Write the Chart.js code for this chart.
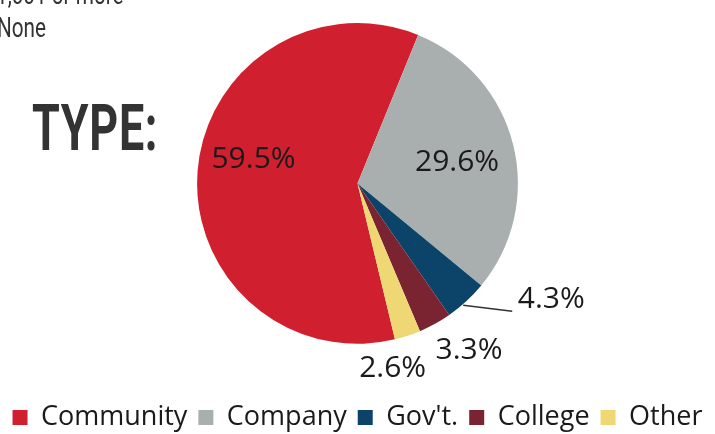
<!DOCTYPE html>
<html>
<head>
<meta charset="utf-8">
<script src="https://cdn.jsdelivr.net/npm/chart.js@4.4.0/dist/chart.umd.min.js"></script>
<style>
    body { margin: 0; background: #fff; }
    #wrap { position: relative; width: 715px; height: 434px; overflow: hidden; }
    .nota { position: absolute; font-family: Roboto, sans-serif; color: #333; transform-origin: left top; white-space: nowrap; }
    #titulo { position: absolute; left: 32px; top: 90px; font-family: Roboto, sans-serif; font-weight: 700;
        font-size: 65px; color: #333; transform: scaleX(0.69); transform-origin: left top; letter-spacing: 1px; }
</style>
</head>
<body>
<div id="wrap">
    <div class="nota" style="left:-4px; top:-22px; font-size:28px; transform:scaleX(0.74);">1,001 or more</div>
    <div class="nota" style="left:-3px; top:11px; font-size:28px; transform:scaleX(0.74);">None</div>
    <div id="titulo">TYPE:</div>
    <canvas id="id_grafica_tipo"></canvas>
</div>
<script>
//------------------------DATOS---------------------------
const categorias = ['Community', 'Company', "Gov't.", 'College', 'Other'];
const porcentajes = [59.5, 29.6, 4.3, 3.3, 2.6];
const etiquetas = ['59.5%', '29.6%', '4.3%', '3.3%', '2.6%'];
const mis_colores = ['#d0202f', '#a9afae', '#0b4468', '#7a2432', '#efd873'];

// donde va cada etiqueta: dentro (f = fraccion del radio) o fuera (desplazamiento desde el borde)
const estiloEtiquetas = [
    { dentro: true, f: 0.65, dy: -16 },
    { dentro: true, f: 0.64, dy: 4 },
    { dentro: false, dx: 85, dy: -2, linea: [46, 10] },
    { dentro: false, dx: 34, dy: 27 },
    { dentro: false, dx: -15, dy: 33 }
];

const pluginEtiquetas = {
    id: 'etiquetasPie',
    afterDatasetsDraw(chart) {
        const ctx = chart.ctx;
        const arcs = chart.getDatasetMeta(0).data;
        ctx.save();
        ctx.font = '30px "Open Sans", sans-serif';
        ctx.fillStyle = '#1a1a1a';
        ctx.textAlign = 'center';
        ctx.textBaseline = 'middle';
        arcs.forEach((arc, i) => {
            const { x, y, startAngle, endAngle, outerRadius } = arc.getProps(['x', 'y', 'startAngle', 'endAngle', 'outerRadius'], true);
            const mid = (startAngle + endAngle) / 2;
            const est = estiloEtiquetas[i];
            if (est.dentro) {
                ctx.fillText(etiquetas[i], x + Math.cos(mid) * outerRadius * est.f, y + Math.sin(mid) * outerRadius * est.f + est.dy);
                return;
            }
            const bx = x + Math.cos(mid) * outerRadius;
            const by = y + Math.sin(mid) * outerRadius;
            if (est.linea) {
                ctx.strokeStyle = '#333';
                ctx.lineWidth = 1.5;
                ctx.beginPath();
                ctx.moveTo(bx - 3, by + 4);
                ctx.lineTo(bx + est.linea[0], by + est.linea[1]);
                ctx.stroke();
            }
            ctx.fillText(etiquetas[i], bx + est.dx, by + est.dy);
        });
        ctx.restore();
    }
};

let ctx1 = document.getElementById('id_grafica_tipo').getContext('2d');
let chart1 = new Chart(ctx1, {
    type: 'pie',
    data: {
        labels: categorias,
        datasets: [{
            data: porcentajes,
            backgroundColor: mis_colores,
            borderWidth: 0
        }]
    },
    options: {
        responsive: true,
        maintainAspectRatio: false,
        animation: false,
        rotation: 166.5,
        layout: { padding: { top: 23, bottom: -7 } },
        plugins: {
            tooltip: { enabled: false },
            legend: {
                position: 'bottom',
                title: { display: true, text: ' ', font: { size: 1 }, padding: { top: 48, bottom: 0 } },
                labels: {
                    boxWidth: 15,
                    boxHeight: 15,
                    padding: 11,
                    color: '#1a1a1a',
                    font: { family: '"Open Sans", sans-serif', size: 27 }
                }
            }
        }
    },
    plugins: [pluginEtiquetas]
});
</script>
</body>
</html>
